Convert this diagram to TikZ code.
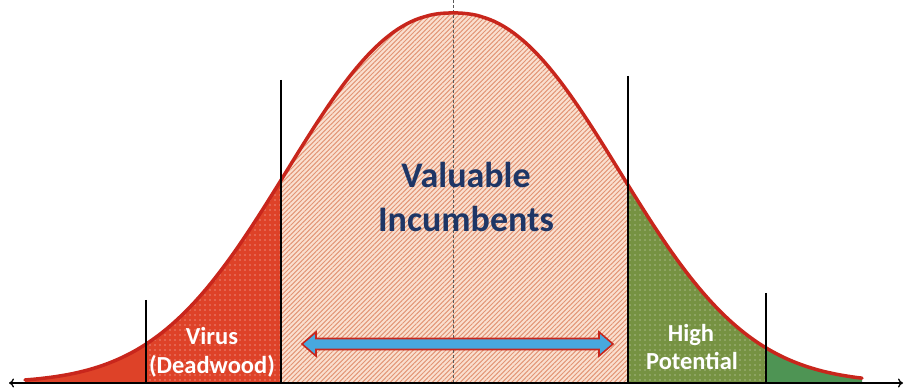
\documentclass[tikz,border=0pt]{standalone}
\usepackage{fontspec}
\setmainfont{Carlito}
\usetikzlibrary{patterns.meta,arrows.meta}
\definecolor{curvered}{RGB}{200,38,28}
\definecolor{leftred}{RGB}{222,66,40}
\definecolor{peach}{RGB}{250,224,208}
\definecolor{stripe}{RGB}{226,150,118}
\definecolor{olive}{RGB}{118,146,66}
\definecolor{darkgreen}{RGB}{78,148,84}
\definecolor{navy}{RGB}{30,54,102}
\definecolor{arrowblue}{RGB}{72,168,222}
\tikzset{
  vline/.style={black, line width=1.4pt},
  label/.style={font=\bfseries\fontsize{24.5}{29}\selectfont, text=white, anchor=base},
  big/.style={font=\bfseries\fontsize{36}{44}\selectfont, text=navy, anchor=base},
  declare function={gg(\t)=7+370*exp(-pow(abs(\t-453)/215+0.0001,2.28));},
  gs/.style={samples=70, smooth},
}
\begin{document}
\begin{tikzpicture}[x=1pt,y=1pt]
\useasboundingbox (0,0) rectangle (906,390);
% fills
\fill[leftred] (25,7) -- plot[gs, domain=25:281] (\x,{gg(\x)}) -- (281,7) -- cycle;
\fill[pattern={Dots[distance=5pt, radius=0.7pt]}, pattern color=white!80!leftred] (146,7) -- plot[gs, domain=146:281] (\x,{gg(\x)}) -- (281,7) -- cycle;
\fill[peach] (281,7) -- plot[gs, domain=281:628] (\x,{gg(\x)}) -- (628,7) -- cycle;
\fill[pattern={Lines[angle=45, distance=3.3pt, line width=1pt]}, pattern color=stripe] (281,7) -- plot[gs, domain=281:628] (\x,{gg(\x)}) -- (628,7) -- cycle;
\fill[olive] (628,7) -- plot[gs, domain=628:766] (\x,{gg(\x)}) -- (766,7) -- cycle;
\fill[pattern={Dots[distance=5pt, radius=0.7pt]}, pattern color=white!75!olive] (628,7) -- plot[gs, domain=628:766] (\x,{gg(\x)}) -- (766,7) -- cycle;
\fill[darkgreen] (766,7) -- plot[gs, domain=766:862] (\x,{gg(\x)}) -- (862,7) -- cycle;
% center dashed line
\coordinate (ctop) at (453,390);
\coordinate (cbot) at (453,7);
\draw[gray!70!black, line width=0.6pt, dash pattern=on 3pt off 2pt] (ctop) -- (cbot);
% curve
\draw[curvered, line width=3.5pt, line cap=round] plot[samples=160, smooth, domain=25:862] (\x,{gg(\x)});
% vertical lines
\coordinate (v1t) at (146,90);  \coordinate (v1b) at (146,7);
\coordinate (v2t) at (281,310); \coordinate (v2b) at (281,7);
\coordinate (v3t) at (628,314); \coordinate (v3b) at (628,7);
\coordinate (v4t) at (766,97);  \coordinate (v4b) at (766,7);
\draw[vline] (v1t) -- (v1b);
\draw[vline] (v2t) -- (v2b);
\draw[vline] (v3t) -- (v3b);
\draw[vline] (v4t) -- (v4b);
% axis
\coordinate (axl) at (9,7);
\coordinate (axr) at (903,7);
\draw[black, line width=1.3pt, {To[length=5pt,width=9pt]}-{To[length=5pt,width=9pt]}] (axl) -- (axr);
% double arrow
\draw[curvered, line width=1.6pt, fill=arrowblue, line join=miter]
  (302,46) -- (316,58) -- (316,51.5) -- (599,51.5) -- (599,58) -- (613,46)
  -- (599,34) -- (599,40.5) -- (316,40.5) -- (316,34) -- cycle;
% texts
\node[big] (val) at (466,202) {Valuable};
\node[big] (inc) at (466,158) {Incumbents};
\node[label] (virus) at (212,45) {Virus};
\node[label] (dead) at (212,16) {(Deadwood)};
\node[label] (high) at (691,48) {High};
\node[label] (pot) at (692,20) {Potential};
\end{tikzpicture}
\end{document}
